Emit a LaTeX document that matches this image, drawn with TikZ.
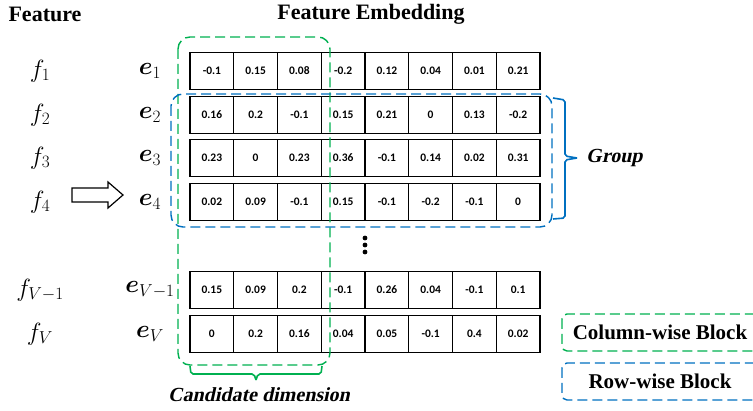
\documentclass[tikz,border=0pt]{standalone}
\usepackage{fontspec}
\usepackage{amsmath,bm}
\setmainfont{Liberation Serif}
\newfontfamily\slfont{Liberation Serif}[FakeSlant=0.22]
\newfontfamily\cellfont{Carlito}
\definecolor{grn}{RGB}{0,176,80}
\definecolor{blu}{RGB}{0,112,192}
\begin{document}
\begin{tikzpicture}[x=1pt,y=-1pt,
  cell/.style={draw,line width=1.2pt,minimum width=43.75pt,minimum height=37.5pt,inner sep=0pt,font=\cellfont\bfseries\fontsize{11.5}{13}\selectfont},
  lab/.style={font=\fontsize{24}{28}\selectfont,inner sep=0pt},
  head/.style={font=\bfseries\fontsize{22}{26}\selectfont,inner sep=0pt},
  note/.style={font=\slfont\bfseries\fontsize{20}{24}\selectfont,inner sep=0pt},
  dashgrn/.style={draw=grn,line width=1.4pt,dash pattern=on 10pt off 5pt,rounded corners=12pt},
  dashblu/.style={draw=blu,line width=1.4pt,dash pattern=on 10pt off 5pt,rounded corners=12pt},
  brace/.style={line width=1.6pt,rounded corners=2pt}]
\useasboundingbox (0,0) rectangle (753,411);
% headings
\node[head] (hf) at (45,14) {Feature};
\node[head] (he) at (371,14) {Feature Embedding};
% labels
\foreach \n/\y/\s in {1/71/1,2/115/2,3/158/3,4/202/4,5/290/V-1,6/334/V}{
  \node[lab] (f\n) at (40,\y) {$f_{\s}$};
  \node[lab] (e\n) at (150,\y) {$\bm{e}_{\s}$};
}
% cells
\foreach \r/\y/\vals in {
  1/71/{-0.1,0.15,0.08,-0.2,0.12,0.04,0.01,0.21},
  2/115/{0.16,0.2,-0.1,0.15,0.21,0,0.13,-0.2},
  3/158/{0.23,0,0.23,0.36,-0.1,0.14,0.02,0.31},
  4/202/{0.02,0.09,-0.1,0.15,-0.1,-0.2,-0.1,0},
  5/290/{0.15,0.09,0.2,-0.1,0.26,0.04,-0.1,0.1},
  6/334/{0,0.2,0.16,0.04,0.05,-0.1,0.4,0.02}}{
  \foreach \v [count=\i] in \vals {
    \node[cell] (c\r-\i) at ({190+43.75*(\i-0.5)},\y) {\v};
  }
}
% block arrow
\node[inner sep=0pt] (arr) at (97,195) {};
\draw[line width=1.2pt,fill=white] (72,188) -- (108,188) -- (108,182) -- (123,195) -- (108,208) -- (108,202) -- (72,202) -- cycle;
% dots
\node[inner sep=0pt] (dots) at (365,245) {};
\foreach \dy in {-7,0,7} \fill (365,245+\dy) circle (2.4pt);
% dashed blocks
\draw[dashgrn] (178,37) rectangle (330,365);
\draw[dashblu] (171,94) rectangle (552,227);
% group brace
\draw[brace,draw=blu] (553,98) -- (565,100) -- (565,156) -- (577,158);
\draw[brace,draw=blu] (553,219) -- (565,218) -- (565,160) -- (577,158);
\node[note,anchor=west] (grp) at (586,158) {Group};
% candidate brace
\draw[brace,draw=grn] (190,366) -- (191,374) -- (254,374) -- (256,380);
\draw[brace,draw=grn] (322,366) -- (321,374) -- (258,374) -- (256,380);
\node[note] (cand) at (259,395) {Candidate dimension};
% legend
\draw[dashgrn,rounded corners=5pt] (562,314) rectangle (770,351);
\node[head,font=\bfseries\fontsize{21}{25}\selectfont] (lcol) at (660,332) {Column-wise Block};
\draw[dashblu,rounded corners=5pt] (562,363) rectangle (770,400);
\node[head,font=\bfseries\fontsize{21}{25}\selectfont] (lrow) at (660,381) {Row-wise Block};
\end{tikzpicture}
\end{document}
